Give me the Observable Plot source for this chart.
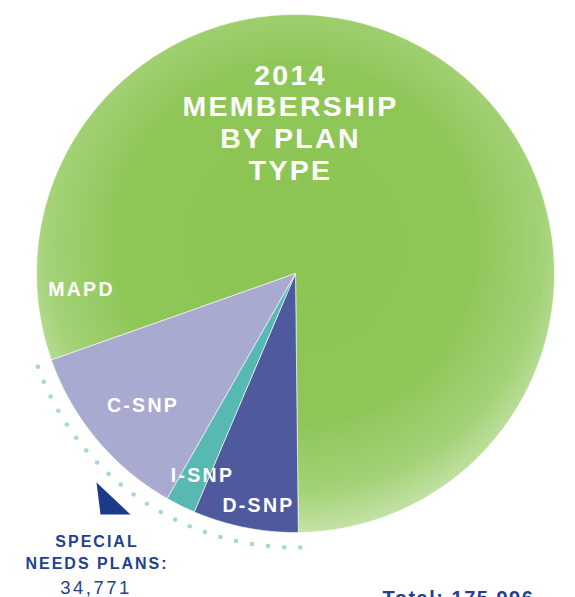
<!DOCTYPE html>
<html><head><meta charset="utf-8">
<script src="https://cdn.jsdelivr.net/npm/d3@7"></script>
<script src="https://cdn.jsdelivr.net/npm/@observablehq/plot@0.6"></script>
<style>body{margin:0;background:#fff;overflow:hidden}</style>
</head><body><div id="chart"></div>
<script>
// ---- data ----
const plans = ["MAPD", "D-SNP", "I-SNP", "C-SNP"];
const members = [141225, 11558, 3275, 19938];
const titleLines = ["2014", "MEMBERSHIP", "BY PLAN", "TYPE"];
const snpLabelLines = ["SPECIAL", "NEEDS PLANS:"];
const snpTotalLabel = "34,771";
const totalLabel = "Total: 175,996";

// ---- layout ----
const W = 575, H = 597, cx = 295, cy = 273, R = 259;
const rad = d => d * Math.PI / 180;
const start = rad(250.5);
const pie = d3.pie().sort(null).startAngle(start).endAngle(start + 2 * Math.PI);
const arcs = pie(members);
const pt = (a, r) => [cx + r * Math.sin(a), cy - r * Math.cos(a)];

const sliceColors = {"MAPD": "url(#mapdGrad)", "D-SNP": "#4f5a9e", "I-SNP": "#58b8b2", "C-SNP": "#a8aacf"};
const slicePts = [];
arcs.forEach((a, i) => {
  const n = Math.max(2, Math.ceil((a.endAngle - a.startAngle) / rad(0.5)));
  const pts = [[cx, cy]];
  for (let k = 0; k <= n; k++) pts.push(pt(a.startAngle + (a.endAngle - a.startAngle) * k / n, R));
  pts.push([cx, cy]);
  pts.forEach(([x, y]) => slicePts.push({plan: plans[i], x, y}));
});

// dotted arc around special needs plans (slices 1..3)
const snpStart = arcs[1].startAngle, snpEnd = arcs[3].endAngle;
const nDots = 22, dotR = 274;
const dots = d3.range(nDots).map(k => {
  const [x, y] = pt(snpStart - rad(0.4) + (snpEnd - snpStart) * k / (nDots - 1), dotR);
  return {x, y};
});

// pointer triangle
const tri = [[96, 482], [100, 514], [130, 514], [96, 482]].map(([x, y]) => ({x, y}));

const sliceLabelPos = {"MAPD": [81, 295], "C-SNP": [142.5, 411.5], "I-SNP": [202, 481], "D-SNP": [258, 511.5]};
const sliceLabels = plans.map(p => ({text: p, x: sliceLabelPos[p][0], y: sliceLabelPos[p][1]}));
const titleData = titleLines.map((t, i) => ({text: t, x: 290, y: 84 + 31.7 * i}));
const snpData = snpLabelLines.map((t, i) => ({text: t, x: 96.5, y: 546.5 + 21.5 * i}));

const navy = "#243f8e";
const font = "Liberation Sans, Arial, Helvetica, sans-serif";

const chart = Plot.plot({
  width: W, height: H, margin: 0,
  x: {type: "linear", domain: [0, W], range: [0, W], axis: null},
  y: {type: "linear", domain: [0, H], range: [0, H], axis: null},
  style: {fontFamily: font, background: "#fff"},
  marks: [
    ...plans.map(p => Plot.line(slicePts.filter(d => d.plan === p), {
      x: "x", y: "y", fill: sliceColors[p], stroke: "#fff", strokeWidth: 0.6, curve: "linear"
    })),
    Plot.dot(dots, {x: "x", y: "y", r: 2.3, fill: "#a9d5d3", stroke: null}),
    Plot.line(tri, {x: "x", y: "y", fill: "#1d3a8a", stroke: null}),
    Plot.text(titleData, {x: "x", y: "y", text: "text", fill: "#fff", fontSize: 28.5, fontWeight: "bold", lineAnchor: "bottom", textAnchor: "middle"}),
    Plot.text(sliceLabels, {x: "x", y: "y", text: "text", fill: "#fff", fontSize: 19.5, fontWeight: "bold", lineAnchor: "bottom", textAnchor: "middle"}),
    Plot.text(snpData, {x: "x", y: "y", text: "text", fill: navy, fontSize: 16, fontWeight: "bold", lineAnchor: "bottom", textAnchor: "middle"}),
    Plot.text([snpTotalLabel], {x: 95.5, y: 593, text: d => d, fill: navy, fontSize: 18.5, fontWeight: "normal", lineAnchor: "bottom", textAnchor: "middle"}),
    Plot.text([totalLabel], {x: 382, y: 604, text: d => d, fill: navy, fontSize: 20, fontWeight: "bold", lineAnchor: "bottom", textAnchor: "start"})
  ]
});

const svg = d3.select(chart);
svg.insert("defs", ":first-child").html(`
  <radialGradient id="mapdGrad" gradientUnits="userSpaceOnUse" cx="${cx}" cy="${cy - 30}" r="${R + 30}">
    <stop offset="0" stop-color="#8cc553"/>
    <stop offset="0.62" stop-color="#8fc658"/>
    <stop offset="0.86" stop-color="#a4d278"/>
    <stop offset="1" stop-color="#c4e2a6"/>
  </radialGradient>`);
const spacing = [2.3, 2.3, 2, 2.5, 1.5];
svg.selectAll("g[aria-label='text']").each(function(_, i) {
  d3.select(this).attr("letter-spacing", spacing[i] + "px");
});
document.getElementById("chart").append(chart);
</script>
</body></html>
